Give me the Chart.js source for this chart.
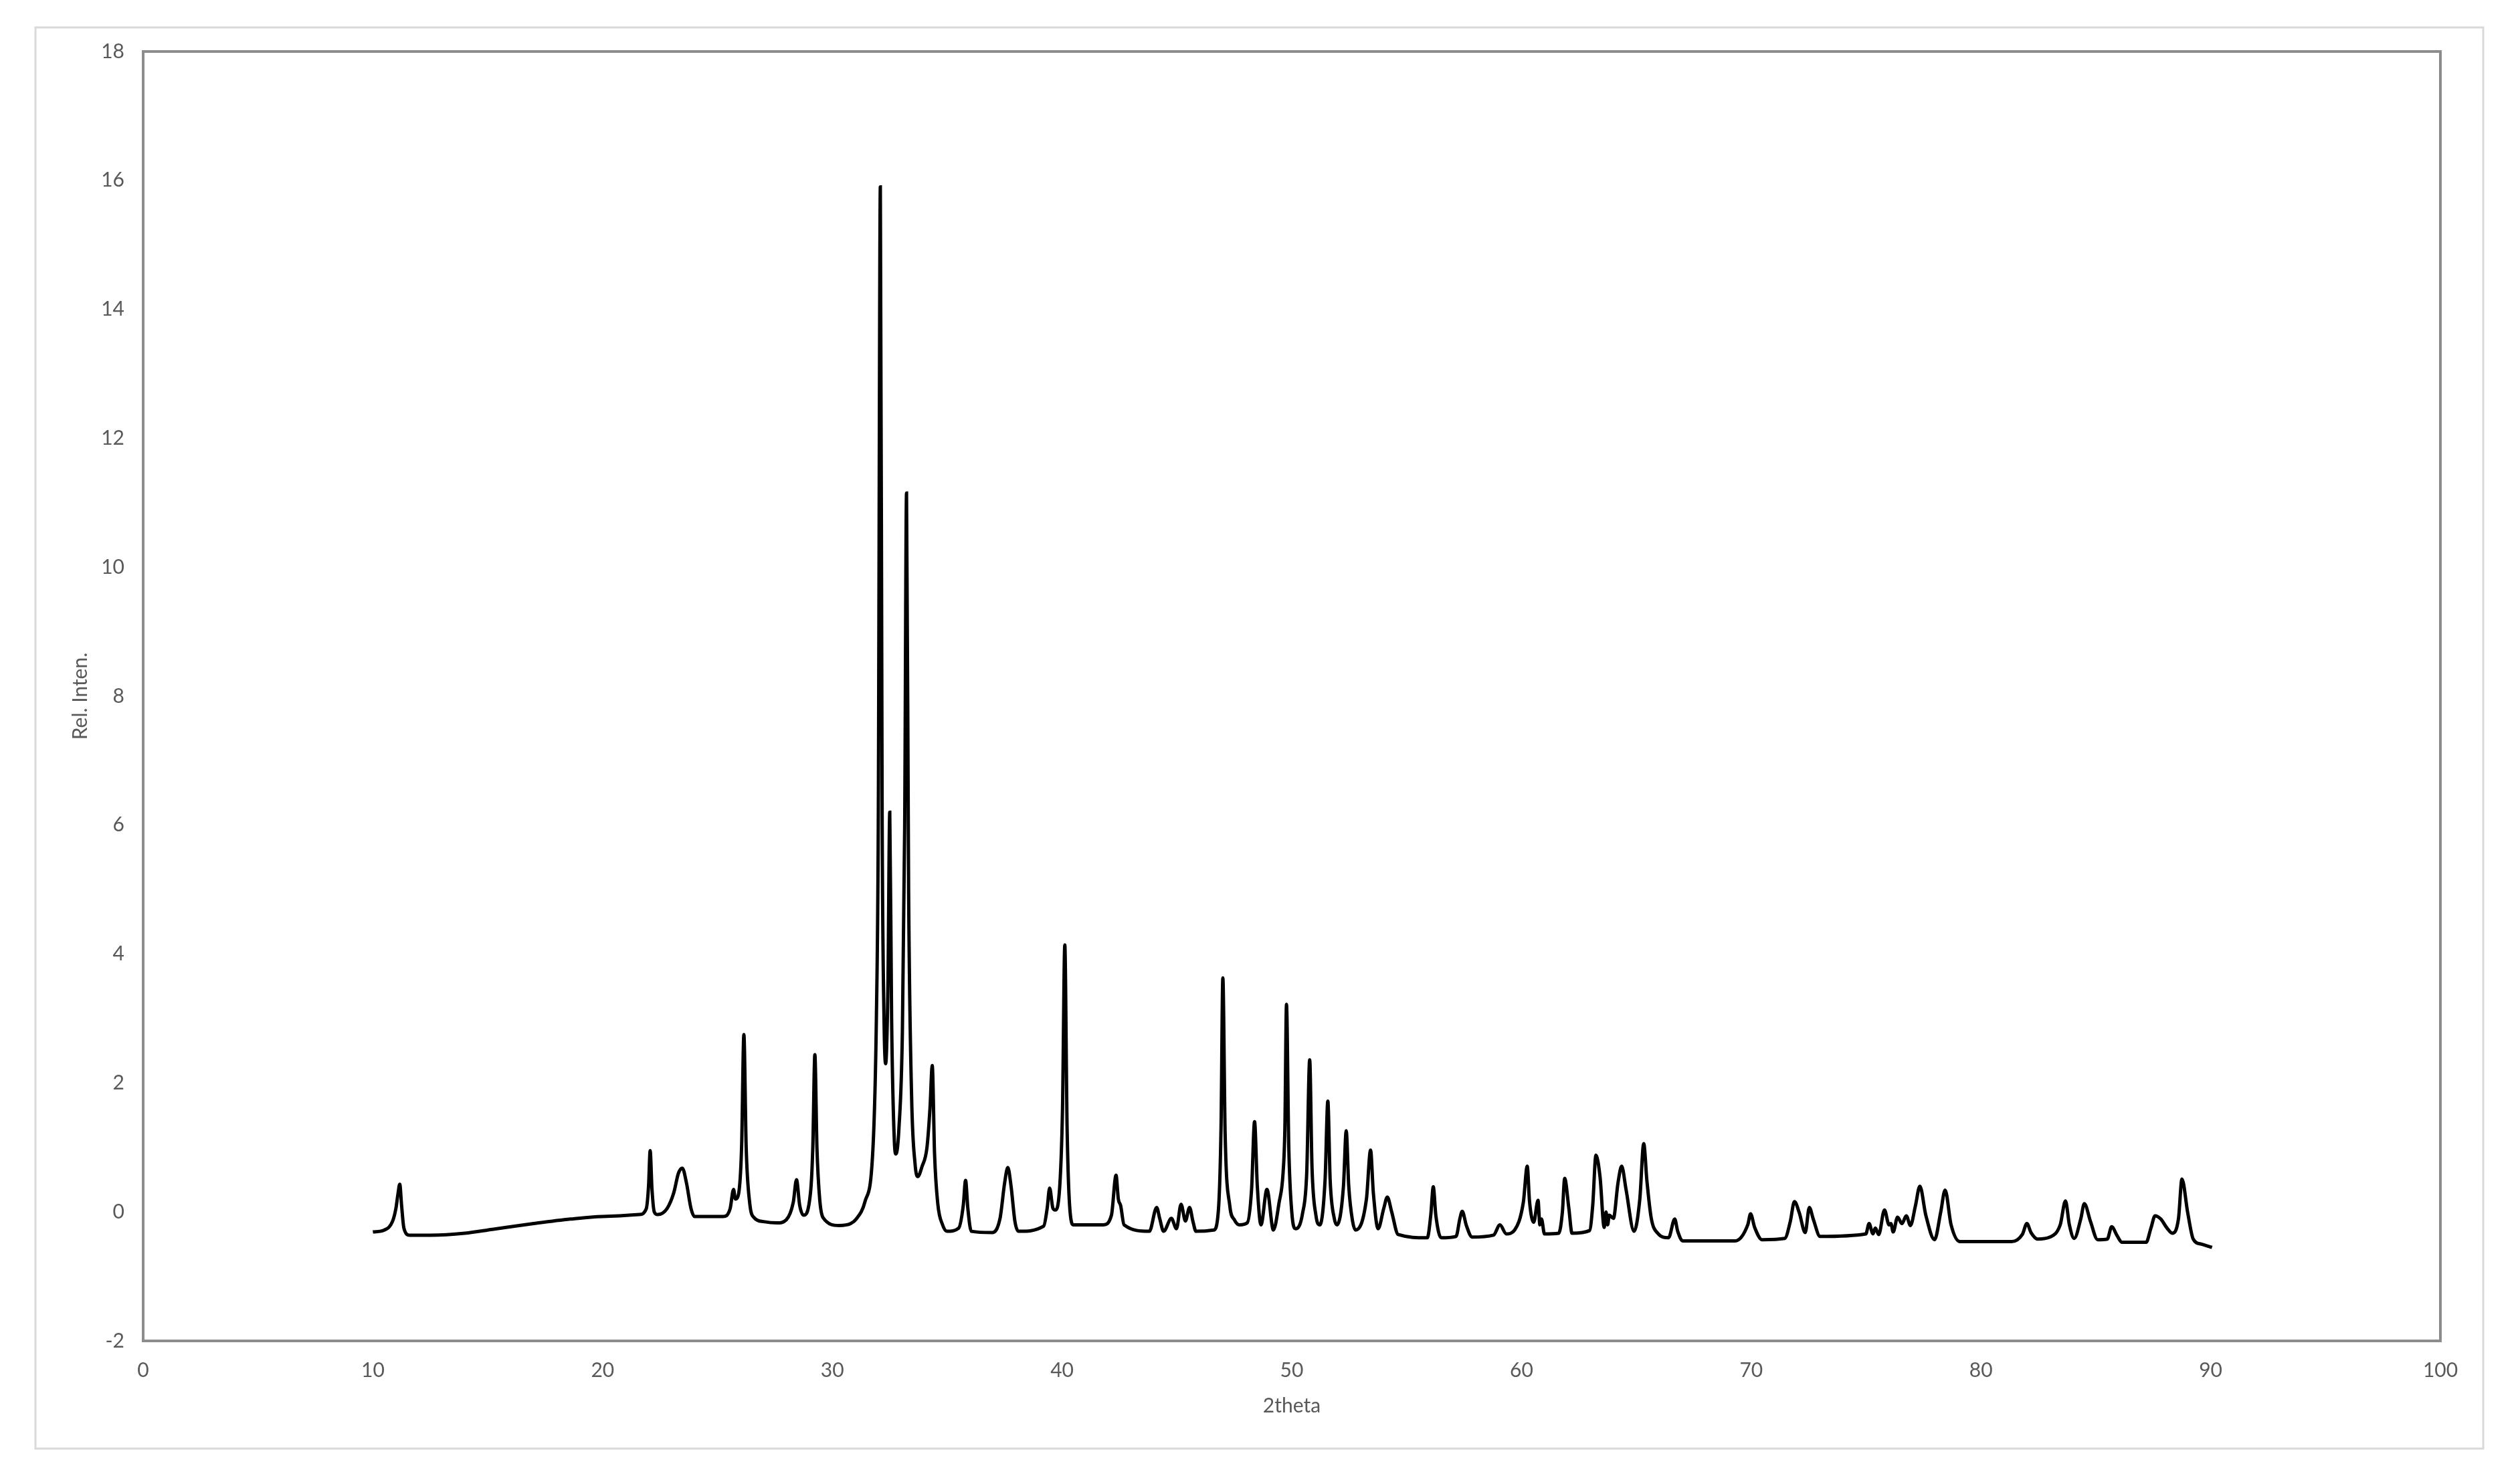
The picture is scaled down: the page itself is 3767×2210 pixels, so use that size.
<!DOCTYPE html>
<html>
<head>
<meta charset="utf-8">
<title>XRD pattern</title>
<script src="https://cdn.jsdelivr.net/npm/chart.js@4.4.1/dist/chart.umd.min.js"></script>
<style>
  html, body { margin: 0; padding: 0; background: #fff; }
  canvas { display: block; }
</style>
</head>
<body>
<canvas id="xrd" width="3767" height="2210"></canvas>
<script>
// 2theta positions (degrees)
const twoTheta = [
  10.0, 10.5, 10.85, 11.0, 11.1, 11.17, 11.25, 11.35, 11.6, 12.5, 14.0, 15.2, 17.0, 18.6, 20.0,
  21.6, 21.9, 22.0, 22.07, 22.15, 22.25, 22.4, 22.8, 23.1, 23.3, 23.47, 23.65, 23.85, 24.0, 25.25,
  25.55, 25.7, 25.78, 25.9, 26.05, 26.15, 26.25, 26.4, 26.6, 27.0, 27.6, 28.0, 28.3, 28.44, 28.58,
  28.75, 29.05, 29.15, 29.24, 29.33, 29.45, 29.6, 30.3, 30.8, 31.04, 31.42, 31.77, 31.92, 32.0, 32.09,
  32.17, 32.25, 32.32, 32.42, 32.5, 32.58, 32.7, 32.77, 32.9, 33.05, 33.15, 33.23, 33.32, 33.45, 33.6,
  33.72, 33.9, 34.12, 34.25, 34.35, 34.45, 34.59, 34.8, 35.0, 35.5, 35.7, 35.8, 35.9, 36.05, 36.96,
  37.3, 37.5, 37.64, 37.78, 37.95, 38.1, 39.2, 39.35, 39.46, 39.6, 39.7, 39.9, 40.02, 40.12, 40.22,
  40.35, 40.5, 41.8, 42.15, 42.35, 42.45, 42.55, 42.7, 43.8, 44.12, 44.25, 44.42, 44.76, 44.98, 45.18,
  45.37, 45.55, 45.7, 45.83, 46.6, 46.8, 46.92, 47.0, 47.1, 47.3, 47.5, 47.73, 48.06, 48.25, 48.38,
  48.5, 48.66, 48.92, 49.2, 49.45, 49.62, 49.7, 49.77, 49.87, 50.0, 50.17, 50.47, 50.65, 50.78, 50.88,
  51.05, 51.22, 51.45, 51.57, 51.67, 51.85, 51.97, 52.25, 52.37, 52.48, 52.65, 52.78, 53.25, 53.43, 53.55,
  53.76, 54.0, 54.16, 54.35, 54.63, 55.9, 56.05, 56.16, 56.27, 56.5, 57.15, 57.32, 57.42, 57.6, 57.85,
  58.78, 59.06, 59.34, 59.7, 60.08, 60.25, 60.35, 60.53, 60.72, 60.8, 60.87, 61.0, 61.62, 61.78, 61.88,
  62.06, 62.2, 62.96, 63.1, 63.24, 63.42, 63.6, 63.68, 63.75, 63.82, 64.0, 64.2, 64.36, 64.55, 64.9,
  65.15, 65.32, 65.46, 65.65, 65.93, 66.4, 66.67, 66.8, 67.03, 69.3, 69.85, 69.97, 70.15, 70.47, 71.46,
  71.7, 71.88, 72.09, 72.35, 72.53, 72.7, 73.0, 74.99, 75.13, 75.3, 75.4, 75.55, 75.8, 76.0, 76.08,
  76.18, 76.37, 76.56, 76.75, 76.93, 77.15, 77.34, 77.6, 77.98, 78.25, 78.44, 78.7, 79.08, 81.34, 81.8,
  82.0, 82.18, 82.47, 83.0, 83.45, 83.68, 83.85, 84.06, 84.35, 84.5, 84.77, 85.08, 85.5, 85.69, 85.93,
  86.14, 87.19, 87.4, 87.58, 87.83, 88.1, 88.33, 88.6, 88.75, 89.0, 89.24, 89.6, 90.06
];

// relative intensity at each position above
const relIntensity = [
  -0.31, -0.28, -0.15, 0.05, 0.3, 0.43, 0.1, -0.25, -0.36, -0.36, -0.33, -0.27, -0.18, -0.11, -0.07,
  -0.04, 0.05, 0.4, 0.95, 0.35, 0.0, -0.04, 0.05, 0.3, 0.6, 0.68, 0.45, 0.05, -0.07, -0.07,
  0.05, 0.35, 0.2, 0.25, 1.0, 2.75, 1.0, 0.15, -0.09, -0.15, -0.17, -0.12, 0.15, 0.5, 0.1,
  -0.05, 0.3, 1.0, 2.44, 1.0, 0.2, -0.09, -0.21, -0.18, -0.11, 0.16, 1.0, 3.06, 6.0, 15.9,
  6.0, 3.0, 2.3, 3.5, 6.2, 3.0, 1.1, 0.9, 1.3, 2.8, 6.0, 11.15, 5.0, 1.8, 0.75,
  0.55, 0.7, 1.0, 1.6, 2.27, 0.9, 0.13, -0.2, -0.3, -0.25, 0.1, 0.49, 0.05, -0.3, -0.32,
  -0.1, 0.45, 0.69, 0.4, -0.15, -0.3, -0.22, 0.05, 0.37, 0.06, 0.03, 0.4, 1.6, 4.14, 1.3,
  0.0, -0.2, -0.2, -0.05, 0.57, 0.2, 0.1, -0.2, -0.3, 0.07, -0.1, -0.3, -0.1, -0.26, 0.12,
  -0.14, 0.07, -0.15, -0.3, -0.28, 0.0, 1.3, 3.63, 1.2, 0.1, -0.12, -0.2, -0.17, 0.35, 1.4,
  0.4, -0.2, 0.35, -0.28, 0.15, 0.6, 1.3, 3.22, 1.0, 0.0, -0.26, -0.02, 0.6, 2.36, 0.7,
  -0.05, -0.2, 0.5, 1.72, 0.5, -0.1, -0.2, 0.4, 1.26, 0.4, -0.15, -0.28, 0.2, 0.96, 0.3,
  -0.26, 0.05, 0.23, 0.0, -0.35, -0.4, -0.05, 0.39, -0.05, -0.4, -0.38, -0.1, 0.01, -0.21, -0.39,
  -0.36, -0.2, -0.34, -0.28, 0.15, 0.71, 0.16, -0.16, 0.18, -0.2, -0.11, -0.34, -0.33, 0.0, 0.52,
  0.06, -0.33, -0.29, 0.1, 0.88, 0.54, -0.24, 0.0, -0.2, -0.05, -0.1, 0.45, 0.71, 0.35, -0.3,
  0.2, 1.06, 0.48, -0.1, -0.33, -0.4, -0.11, -0.3, -0.45, -0.45, -0.2, -0.03, -0.24, -0.43, -0.41,
  -0.15, 0.16, -0.01, -0.32, 0.07, -0.11, -0.38, -0.34, -0.18, -0.34, -0.25, -0.35, 0.03, -0.2, -0.18,
  -0.31, -0.08, -0.18, -0.06, -0.21, 0.1, 0.4, -0.05, -0.43, 0.0, 0.34, -0.2, -0.46, -0.46, -0.35,
  -0.18, -0.32, -0.42, -0.39, -0.2, 0.17, -0.2, -0.41, -0.1, 0.13, -0.15, -0.43, -0.42, -0.23, -0.37,
  -0.47, -0.47, -0.25, -0.06, -0.11, -0.25, -0.33, -0.1, 0.51, -0.01, -0.42, -0.5, -0.55
];

const xTickValues = [0, 10, 20, 30, 40, 50, 60, 70, 80, 90, 100];
const yTickValues = [-2, 0, 2, 4, 6, 8, 10, 12, 14, 16, 18];

const textColor = '#595959';
const tickFont = { family: 'Lato', size: 30 };

// frame around whole chart + box around plot area
const frames = {
  id: 'frames',
  beforeDraw(chart) {
    const ctx = chart.ctx;
    ctx.save();
    ctx.fillStyle = '#fff';
    ctx.fillRect(0, 0, chart.width, chart.height);
    ctx.strokeStyle = '#d9d9d9';
    ctx.lineWidth = 3;
    ctx.strokeRect(53, 41, 3659, 2125);
    ctx.restore();
  },
  beforeDatasetsDraw(chart) {
    const { ctx, chartArea: a } = chart;
    ctx.save();
    ctx.strokeStyle = '#8c8c8c';
    ctx.lineWidth = 4;
    ctx.strokeRect(a.left, a.top, a.right - a.left, a.bottom - a.top);
    ctx.restore();
  }
};

new Chart(document.getElementById('xrd'), {
  type: 'line',
  data: {
    datasets: [{
      label: 'Rel. Inten.',
      data: twoTheta.map((x, i) => ({ x: x, y: relIntensity[i] })),
      borderColor: '#000',
      borderWidth: 5,
      pointRadius: 0,
      fill: false,
      cubicInterpolationMode: 'monotone'
    }]
  },
  options: {
    responsive: false,
    animation: false,
    devicePixelRatio: 1,
    layout: { padding: { left: 0, right: 119, top: 77, bottom: 60 } },
    plugins: {
      legend: { display: false },
      tooltip: { enabled: false }
    },
    scales: {
      x: {
        type: 'linear',
        min: 0,
        max: 100,
        afterBuildTicks: s => { s.ticks = xTickValues.map(v => ({ value: v })); },
        afterFit: s => { s.height = 145; },
        grid: { display: false, drawTicks: false },
        border: { display: false },
        ticks: { color: textColor, font: tickFont, padding: 26, maxRotation: 0 },
        title: {
          display: true, text: '2theta', color: textColor, font: tickFont,
          padding: { top: 0, bottom: 30 }
        }
      },
      y: {
        type: 'linear',
        min: -2,
        max: 18,
        afterBuildTicks: s => { s.ticks = yTickValues.map(v => ({ value: v })); },
        afterFit: s => { s.width = 214; },
        grid: { display: false, drawTicks: false },
        border: { display: false },
        ticks: { color: textColor, font: tickFont, padding: 28 },
        title: {
          display: true, text: 'Rel. Inten.', color: textColor, font: tickFont,
          padding: { top: 102, bottom: 0 }
        }
      }
    }
  },
  plugins: [frames]
});
</script>
</body>
</html>
